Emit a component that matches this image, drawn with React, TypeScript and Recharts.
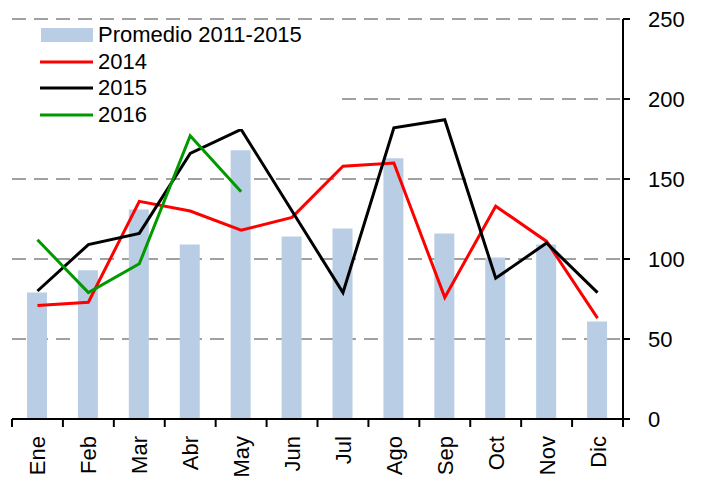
import React from 'react';
import { ComposedChart, Bar, Line, XAxis, YAxis, CartesianGrid, Legend } from 'recharts';

const months = ['Ene', 'Feb', 'Mar', 'Abr', 'May', 'Jun', 'Jul', 'Ago', 'Sep', 'Oct', 'Nov', 'Dic'];
const promedio = [79, 93, 131, 109, 168, 114, 119, 163, 116, 101, 109, 61];
const s2014 = [71, 73, 136, 130, 118, 126, 158, 160, 76, 133, 111, 63];
const s2015 = [80, 109, 116, 166, 181, 130, 79, 182, 187, 88, 110, 79];
const s2016: (number | null)[] = [112, 79, 97, 177, 142, null, null, null, null, null, null, null];
const yTicks = [0, 50, 100, 150, 200, 250];

const data = months.map((m, i) => ({
  month: m,
  promedio: promedio[i],
  y2014: s2014[i],
  y2015: s2015[i],
  y2016: s2016[i],
}));

const FONT = '"Liberation Sans", Arial, sans-serif';
const W = 704;
const H = 483;
const M = { top: 19, right: 0, bottom: 0, left: 12 };
const Y_W = 81;
const X_H = 64;
const BAND = (W - M.left - M.right - Y_W) / months.length;

const XTick = (props: any) => {
  const { x, y, payload, index } = props;
  const left = x - BAND / 2;
  const right = x + BAND / 2;
  const axisY = y - 8;
  return (
    <g>
      <line x1={left} y1={axisY} x2={left} y2={axisY + 8} stroke="#000" strokeWidth={2} />
      {index === months.length - 1 && (
        <line x1={right} y1={axisY} x2={right} y2={axisY + 8} stroke="#000" strokeWidth={2} />
      )}
      <text
        x={x + 8}
        y={axisY + 17}
        transform={`rotate(-90, ${x + 8}, ${axisY + 17})`}
        textAnchor="end"
        fontSize={22}
        fontFamily={FONT}
        fill="#000"
      >
        {payload.value}
      </text>
    </g>
  );
};

const LegendContent = () => {
  const items = [
    { label: 'Promedio 2011-2015', type: 'rect', color: '#b9cde5' },
    { label: '2014', type: 'line', color: '#ff0000' },
    { label: '2015', type: 'line', color: '#000000' },
    { label: '2016', type: 'line', color: '#009900' },
  ];
  return (
    <div style={{ background: '#fff', width: 330, height: 106, position: 'relative' }}>
      {items.map((it, i) => (
        <div
          key={it.label}
          style={{
            position: 'absolute',
            left: 28,
            top: -1 + i * 26.6,
            height: 26,
            display: 'flex',
            alignItems: 'center',
            fontFamily: FONT,
            fontSize: 22,
            color: '#000',
            whiteSpace: 'nowrap',
          }}
        >
          <svg width={58} height={26} style={{ display: 'block' }}>
            {it.type === 'rect' ? (
              <rect x={1} y={6} width={52} height={14} fill={it.color} />
            ) : (
              <line x1={0} y1={13} x2={53} y2={13} stroke={it.color} strokeWidth={3} />
            )}
          </svg>
          <span>{it.label}</span>
        </div>
      ))}
    </div>
  );
};

export default function App() {
  return (
    <div style={{ position: 'absolute', left: 0, top: 0, width: W, height: H, background: '#fff' }}>
      <ComposedChart width={W} height={H} data={data} margin={M}>
        <CartesianGrid
          vertical={false}
          horizontal
          stroke="#a0a0a0"
          strokeWidth={2}
          strokeDasharray="14 8"
        />
        <XAxis
          dataKey="month"
          height={X_H}
          axisLine={{ stroke: '#000', strokeWidth: 2 }}
          tickLine={false}
          tick={<XTick />}
          interval={0}
          tickSize={8}
          tickMargin={0}
        />
        <YAxis
          orientation="right"
          width={Y_W}
          domain={[0, 250]}
          ticks={yTicks}
          allowDataOverflow
          axisLine={{ stroke: '#000', strokeWidth: 2 }}
          tickLine={{ stroke: '#000', strokeWidth: 2 }}
          tickSize={7}
          tickMargin={18}
          tick={{ fontSize: 22, fontFamily: FONT, fill: '#000' }}
        />
        <Legend
          layout="horizontal"
          verticalAlign="middle"
          align="center"
          content={<LegendContent />}
          wrapperStyle={{ position: 'absolute', left: 12, top: 23, width: 330, height: 106 }}
        />
        <Bar dataKey="promedio" fill="#b9cde5" barSize={20} isAnimationActive={false} />
        <Line
          dataKey="y2014"
          stroke="#ff0000"
          strokeWidth={3}
          dot={false}
          activeDot={false}
          type="linear"
          isAnimationActive={false}
        />
        <Line
          dataKey="y2015"
          stroke="#000000"
          strokeWidth={3}
          dot={false}
          activeDot={false}
          type="linear"
          isAnimationActive={false}
        />
        <Line
          dataKey="y2016"
          stroke="#009900"
          strokeWidth={3}
          dot={false}
          activeDot={false}
          type="linear"
          isAnimationActive={false}
        />
      </ComposedChart>
    </div>
  );
}
